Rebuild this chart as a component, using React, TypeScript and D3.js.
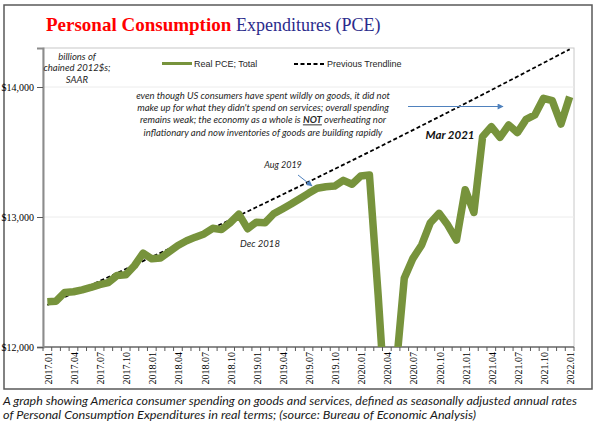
import { useEffect, useRef } from "react";
import * as d3 from "d3";

// monthly categories 2017.01 .. 2022.01
const years = [2017, 2018, 2019, 2020, 2021, 2022];
const months: string[] = [];
years.forEach((yr) => {
  for (let m = 1; m <= 12; m++) {
    if (yr === 2022 && m > 1) break;
    months.push(`${yr}.${String(m).padStart(2, "0")}`);
  }
});

// labelled categories along the x axis
const tickLabels = [
  "2017.01", "2017.04", "2017.07", "2017.10",
  "2018.01", "2018.04", "2018.07", "2018.10",
  "2019.01", "2019.04", "2019.07", "2019.10",
  "2020.01", "2020.04", "2020.07", "2020.10",
  "2021.01", "2021.04", "2021.07", "2021.10",
  "2022.01",
];

// Real PCE, total, billions of chained 2012 dollars (SAAR)
const realPce = [
  12348, 12352, 12420, 12425, 12440, 12458, 12480, 12495, 12550, 12555, 12625, 12722,
  12678, 12684, 12733, 12781, 12817, 12845, 12870, 12913, 12903, 12956, 13022, 12910,
  12960, 12955, 13025, 13062, 13100, 13140, 13182, 13221, 13233, 13238, 13282, 13252,
  13315, 13323, 12400, 11380, 11790, 12528, 12682, 12785, 12956, 13028, 12938, 12823,
  13210, 13035, 13618, 13695, 13613, 13708, 13649, 13751, 13785, 13913, 13895, 13715,
  13925,
];

// pre-pandemic trend, read at each January
const trendMonths = ["2017.01", "2018.01", "2019.01", "2020.01", "2021.01", "2022.01"];
const trendValues = [12323, 12693, 13075, 13468, 13873, 14290];

const yTicks = [12000, 13000, 14000];

const noteLines = [
  "even though US consumers have spent wildly on goods, it did not",
  "make up for what they didn't spend on services; overall spending",
];
const noteLast = "inflationary and now inventories of goods are building rapidly";

const captionLines = [
  "A graph showing America consumer spending on goods and services, defined as seasonally adjusted annual rates",
  "of Personal Consumption Expenditures in real terms; (source: Bureau of Economic Analysis)",
];
const captionWidths = [574, 473];

const GREEN = "#77933c";
const BLUE = "#4f81bd";
const SERIF = "'Liberation Serif', 'Times New Roman', serif";
const SANS = "'Liberation Sans', Arial, sans-serif";
const ITALIC = "Lato, 'Open Sans', sans-serif";

export default function App() {
  const ref = useRef<SVGSVGElement>(null);

  useEffect(() => {
    if (!ref.current) return;
    const svg = d3.select(ref.current);
    svg.selectAll("*").remove();

    const plot = { left: 43, top: 48, right: 574, bottom: 347 };

    const x = d3.scaleBand<string>().domain(months).range([plot.left, plot.right]);
    const bw = x.bandwidth();
    const cx = (m: string) => (x(m) ?? 0) + bw / 2;
    const y = d3.scaleLinear().domain([12000, 14300]).range([plot.bottom, plot.top]);

    const defs = svg.append("defs");
    defs
      .append("clipPath")
      .attr("id", "plot-clip")
      .append("rect")
      .attr("x", plot.left)
      .attr("y", plot.top)
      .attr("width", plot.right - plot.left)
      .attr("height", plot.bottom - plot.top);
    defs
      .append("marker")
      .attr("id", "arrow")
      .attr("viewBox", "0 0 10 10")
      .attr("refX", 9)
      .attr("refY", 5)
      .attr("markerWidth", 7)
      .attr("markerHeight", 6)
      .attr("orient", "auto")
      .append("path")
      .attr("d", "M0,0L10,5L0,10Z")
      .attr("fill", BLUE);

    // outer frame
    svg
      .append("rect")
      .attr("x", 4)
      .attr("y", 5)
      .attr("width", 588)
      .attr("height", 384)
      .attr("fill", "#fff")
      .attr("stroke", "#595959")
      .attr("stroke-width", 1.5);

    // title
    const title = svg.append("text").attr("x", 46).attr("y", 31).attr("font-family", SERIF);
    title
      .append("tspan")
      .attr("font-size", 19)
      .attr("font-weight", "bold")
      .attr("fill", "#ff0000")
      .text("Personal Consumption ");
    title.append("tspan").attr("font-size", 18).attr("fill", "#2b2b8c").text("Expenditures (PCE)");

    // plot area border + gridlines
    svg
      .append("rect")
      .attr("x", plot.left)
      .attr("y", plot.top)
      .attr("width", plot.right - plot.left)
      .attr("height", plot.bottom - plot.top)
      .attr("fill", "none")
      .attr("stroke", "#c8c8c8")
      .attr("stroke-width", 1);

    svg
      .append("g")
      .selectAll("line")
      .data(yTicks.slice(1))
      .join("line")
      .attr("x1", plot.left)
      .attr("x2", plot.right)
      .attr("y1", (d) => y(d))
      .attr("y2", (d) => y(d))
      .attr("stroke", "#ececec");

    // y axis
    const yAxis = svg
      .append("g")
      .attr("transform", `translate(${plot.left},0)`)
      .call(
        d3
          .axisLeft(y)
          .tickValues(yTicks)
          .tickSize(6)
          .tickPadding(3)
          .tickFormat((d) => "$" + d3.format(",")(d as number))
      );
    yAxis.select(".domain").attr("stroke", "#8c8c8c").attr("stroke-width", 2);
    yAxis.selectAll(".tick line").attr("stroke", "#595959");
    yAxis.selectAll("text").attr("font-family", SERIF).attr("font-size", 10).attr("fill", "#000");

    // x axis: line, monthly ticks between categories, rotated labels
    const xAxis = svg.append("g");
    xAxis
      .append("line")
      .attr("x1", plot.left)
      .attr("x2", plot.right)
      .attr("y1", plot.bottom)
      .attr("y2", plot.bottom)
      .attr("stroke", "#8c8c8c")
      .attr("stroke-width", 2);
    xAxis
      .selectAll("line.tick")
      .data([...months, "end"])
      .join("line")
      .attr("class", "tick")
      .attr("x1", (d) => (d === "end" ? plot.right : x(d) ?? 0))
      .attr("x2", (d) => (d === "end" ? plot.right : x(d) ?? 0))
      .attr("y1", plot.bottom)
      .attr("y2", plot.bottom + 4)
      .attr("stroke", "#595959");
    xAxis
      .selectAll("text")
      .data(tickLabels)
      .join("text")
      .attr("transform", (d) => `translate(${cx(d) + 1},${plot.bottom + 5}) rotate(-90)`)
      .attr("dy", "0.35em")
      .attr("text-anchor", "end")
      .attr("font-family", SERIF)
      .attr("font-size", 10)
      .attr("fill", "#000")
      .text((d) => d);

    // previous trendline
    const trendLine = d3
      .line<number>()
      .x((_, i) => cx(trendMonths[i]))
      .y((d) => y(d))
      .curve(d3.curveMonotoneX);
    svg
      .append("path")
      .datum(trendValues)
      .attr("fill", "none")
      .attr("stroke", "#000")
      .attr("stroke-width", 1.8)
      .attr("stroke-dasharray", "4,2.5")
      .attr("d", trendLine);

    // Real PCE line
    const pceLine = d3
      .line<number>()
      .x((_, i) => cx(months[i]))
      .y((d) => y(d));
    svg
      .append("path")
      .datum(realPce)
      .attr("clip-path", "url(#plot-clip)")
      .attr("fill", "none")
      .attr("stroke", GREEN)
      .attr("stroke-width", 7.5)
      .attr("stroke-linejoin", "round")
      .attr("d", pceLine);

    // legend
    const legend = svg.append("g").attr("font-family", SANS).attr("font-size", 9).attr("fill", "#262626");
    legend
      .append("line")
      .attr("x1", 162)
      .attr("x2", 192)
      .attr("y1", 63.5)
      .attr("y2", 63.5)
      .attr("stroke", GREEN)
      .attr("stroke-width", 3);
    legend.append("text").attr("x", 194).attr("y", 66.5).text("Real PCE; Total");
    legend
      .append("line")
      .attr("x1", 294)
      .attr("x2", 325)
      .attr("y1", 64)
      .attr("y2", 64)
      .attr("stroke", "#000")
      .attr("stroke-width", 1.8)
      .attr("stroke-dasharray", "4,2.5");
    legend.append("text").attr("x", 327).attr("y", 67).text("Previous Trendline");

    // units note
    const units = svg
      .append("text")
      .attr("font-family", ITALIC)
      .attr("font-style", "italic")
      .attr("font-size", 9.5)
      .attr("fill", "#262626")
      .attr("text-anchor", "middle");
    ["billions of", "chained 2012$s;", "SAAR"].forEach((t, i) => {
      units.append("tspan").attr("x", 77).attr("y", 59.5 + i * 11.5).text(t);
    });

    // commentary
    const note = svg
      .append("text")
      .attr("font-family", ITALIC)
      .attr("font-style", "italic")
      .attr("font-size", 9.5)
      .attr("fill", "#262626")
      .attr("text-anchor", "middle");
    noteLines.forEach((t, i) => {
      note.append("tspan").attr("x", 263).attr("y", 99 + i * 12.2).text(t);
    });
    const l3 = note.append("tspan").attr("x", 263).attr("y", 123.4);
    l3.append("tspan").text("remains weak; the economy as a whole is ");
    l3.append("tspan").attr("font-weight", "bold").attr("text-decoration", "underline").text("NOT");
    l3.append("tspan").text(" overheating nor");
    note.append("tspan").attr("x", 263).attr("y", 135.6).text(noteLast);

    svg
      .append("line")
      .attr("x1", 408)
      .attr("y1", 106.5)
      .attr("x2", 503)
      .attr("y2", 106.5)
      .attr("stroke", BLUE)
      .attr("stroke-width", 1)
      .attr("marker-end", "url(#arrow)");

    const callouts = svg
      .append("g")
      .attr("font-family", ITALIC)
      .attr("font-style", "italic")
      .attr("fill", "#262626")
      .attr("text-anchor", "middle");
    callouts.append("text").attr("x", 283).attr("y", 168).attr("font-size", 9).text("Aug 2019");
    callouts.append("text").attr("x", 260).attr("y", 246.5).attr("font-size", 9.5).text("Dec 2018");
    callouts
      .append("text")
      .attr("x", 450)
      .attr("y", 139)
      .attr("font-size", 11.5)
      .attr("font-weight", "bold")
      .attr("fill", "#111")
      .text("Mar 2021");

    svg
      .append("line")
      .attr("x1", 298)
      .attr("y1", 175)
      .attr("x2", 312)
      .attr("y2", 186)
      .attr("stroke", BLUE)
      .attr("stroke-width", 1)
      .attr("marker-end", "url(#arrow)");

    // caption below the frame
    const caption = svg
      .append("g")
      .attr("font-family", ITALIC)
      .attr("font-style", "italic")
      .attr("font-size", 11.5)
      .attr("fill", "#1a1a1a");
    captionLines.forEach((t, i) => {
      caption
        .append("text")
        .attr("x", 3)
        .attr("y", 405 + i * 14)
        .attr("textLength", captionWidths[i])
        .attr("lengthAdjust", "spacingAndGlyphs")
        .text(t);
    });
  }, []);

  return (
    <svg
      ref={ref}
      width={600}
      height={426}
      style={{ position: "absolute", left: 0, top: 0, background: "#fff" }}
    />
  );
}
